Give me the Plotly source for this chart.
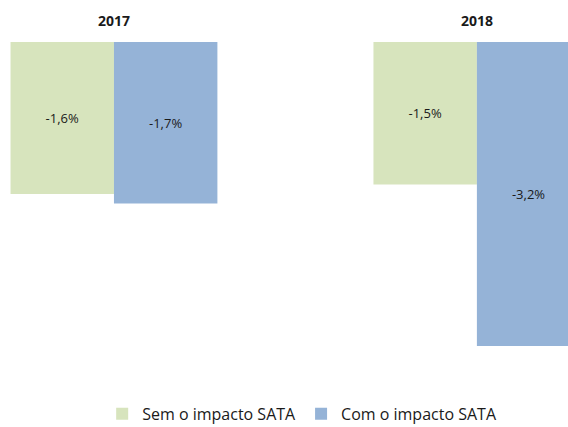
import plotly.graph_objects as go

categories = ["2017", "2018"]
sem_impacto = [-1.6, -1.5]
com_impacto = [-1.7, -3.2]
series_names = ["Sem o impacto SATA", "Com o impacto SATA"]

def fmt(v):
    return f"{v:.1f}".replace(".", ",") + "%"

fig = go.Figure()
for name, vals, color in [(series_names[0], sem_impacto, "#D7E4BD"),
                          (series_names[1], com_impacto, "#95B3D7")]:
    fig.add_trace(go.Bar(
        x=categories, y=vals, name=name,
        marker=dict(color=color, line=dict(width=0)),
        text=[fmt(v) for v in vals],
        textposition="inside", insidetextanchor="middle",
        textfont=dict(family="Open Sans", size=13, color="#1a1a1a"),
        hoverinfo="skip",
    ))

fig.update_layout(
    width=568, height=427,
    margin=dict(l=0, r=0, t=42, b=0, autoexpand=False),
    paper_bgcolor="white", plot_bgcolor="white",
    barmode="group", bargap=0.43, bargroupgap=0,
    showlegend=True,
    legend=dict(orientation="h", x=0.532, xanchor="center", y=-0.01, yanchor="bottom",
                font=dict(family="Open Sans", size=16, color="#1a1a1a"),
                itemwidth=30, traceorder="normal", bgcolor="rgba(0,0,0,0)"),
    xaxis=dict(type="category", side="top", range=[-0.314, 1.251],
               showline=False, showgrid=False, zeroline=False,
               ticks="outside", ticklen=9, tickcolor="rgba(0,0,0,0)",
               tickfont=dict(family="Open Sans", size=14, color="#1a1a1a", weight="bold")),
    yaxis=dict(range=[-4.053, 0], visible=False, showgrid=False, zeroline=False),
)

fig.write_html("out.html", config={"displayModeBar": False},
               post_script="document.body.style.margin='0';document.body.style.overflow='hidden';")
